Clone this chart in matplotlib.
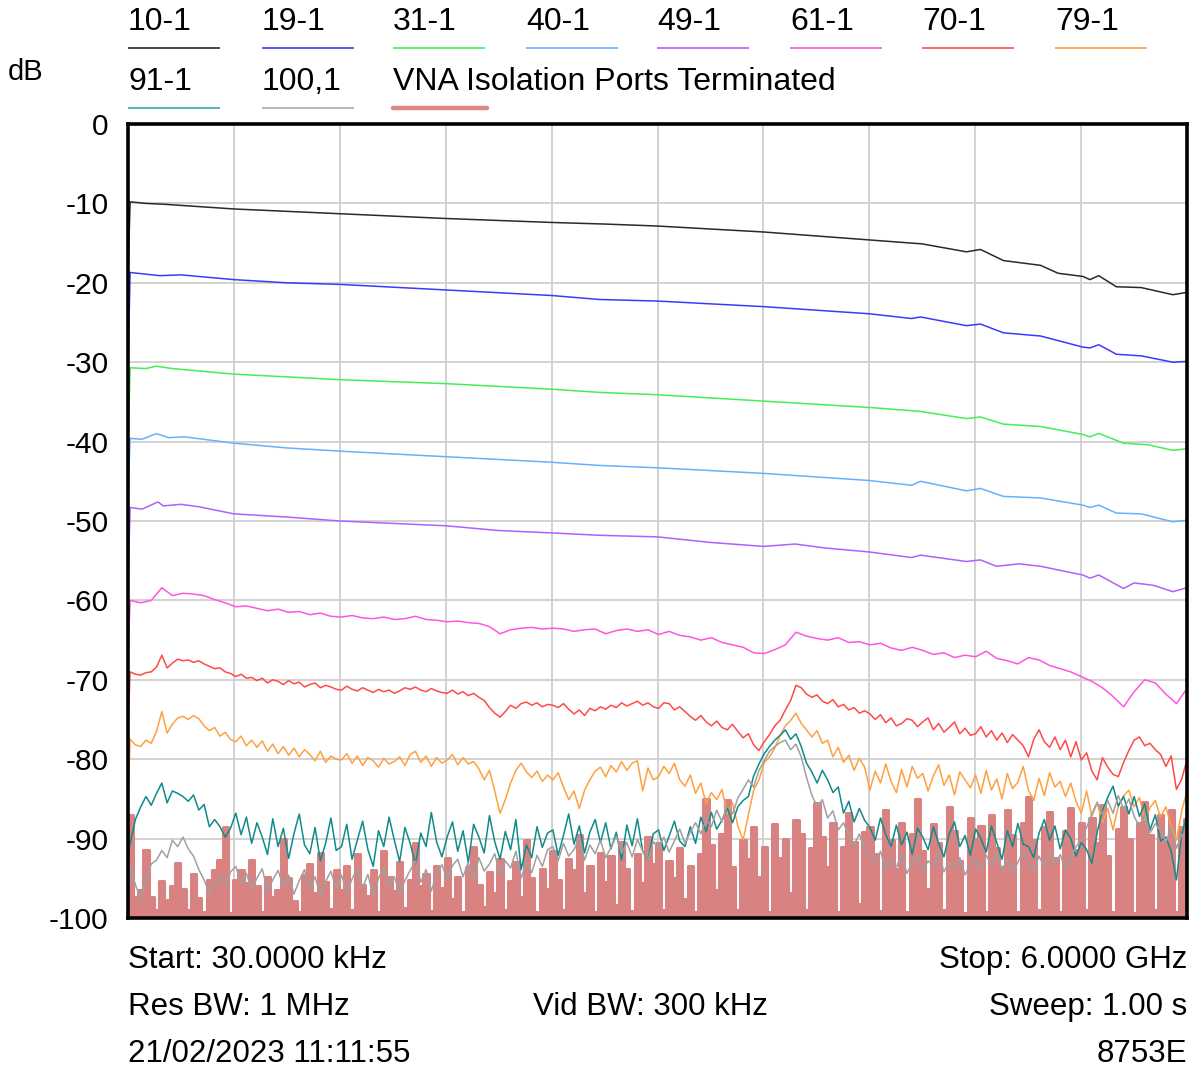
import numpy as np
import matplotlib.pyplot as plt
from matplotlib.lines import Line2D

plt.rcParams['font.family'] = ['Liberation Sans', 'DejaVu Sans']

# sweep: 30 kHz .. 6 GHz, frequency in GHz
f_start = 0.00003
f_stop = 6.0

# ---- smooth traces: breakpoints (GHz, dB) ----
f_10 = [0.012, 0.1, 0.2, 0.6, 1.2, 1.8, 2.4, 2.7, 3.0, 3.6, 4.2, 4.5, 4.75, 4.83, 4.96,
        5.17, 5.27, 5.41, 5.45, 5.5, 5.6, 5.74, 5.92, 6.0]
db_10 = [-9.8, -10.0, -10.1, -10.7, -11.3, -11.9, -12.4, -12.6, -12.85, -13.6, -14.6, -15.1,
         -16.1, -15.8, -17.2, -17.8, -18.8, -19.2, -19.6, -19.1, -20.5, -20.6, -21.5, -21.2]

f_19 = [0.012, 0.18, 0.3, 0.6, 0.9, 1.2, 1.8, 2.4, 2.67, 3.0, 3.6, 4.2, 4.44, 4.49, 4.75,
        4.83, 4.96, 5.17, 5.41, 5.45, 5.5, 5.6, 5.74, 5.92, 6.0]
db_19 = [-18.7, -19.1, -19.0, -19.6, -20.0, -20.2, -20.9, -21.6, -22.1, -22.3, -23.0, -23.9,
         -24.5, -24.3, -25.4, -25.2, -26.3, -26.7, -28.1, -28.2, -27.8, -29.0, -29.2, -30.0, -29.9]

f_31 = [0.012, 0.1, 0.16, 0.25, 0.6, 1.2, 1.8, 2.4, 2.67, 3.0, 3.6, 4.2, 4.49, 4.75, 4.83,
        4.96, 5.17, 5.41, 5.45, 5.5, 5.64, 5.78, 5.92, 6.0]
db_31 = [-30.7, -30.8, -30.5, -30.8, -31.5, -32.2, -32.7, -33.4, -33.8, -34.1, -34.9, -35.7,
         -36.2, -37.1, -36.9, -37.8, -38.1, -39.1, -39.4, -38.96, -40.2, -40.4, -41.1, -40.9]

f_40 = [0.012, 0.08, 0.16, 0.23, 0.32, 0.6, 0.9, 1.2, 1.8, 2.4, 2.67, 3.0, 3.6, 4.2, 4.44,
        4.49, 4.75, 4.83, 4.96, 5.17, 5.41, 5.45, 5.5, 5.6, 5.74, 5.92, 6.0]
db_40 = [-39.6, -39.7, -39.0, -39.5, -39.4, -40.2, -40.8, -41.2, -41.9, -42.6, -43.0, -43.3,
         -44.0, -44.9, -45.5, -45.0, -46.2, -45.9, -46.9, -47.1, -48.0, -48.3, -48.0, -49.0,
         -49.1, -50.1, -49.9]

f_49 = [0.012, 0.08, 0.17, 0.2, 0.3, 0.4, 0.6, 0.9, 1.2, 1.8, 2.1, 2.4, 2.67, 3.0, 3.3, 3.6,
        3.78, 3.95, 4.2, 4.44, 4.49, 4.75, 4.83, 4.92, 5.05, 5.17, 5.3, 5.41, 5.45, 5.5, 5.64,
        5.7, 5.81, 5.92, 6.0]
db_49 = [-48.3, -48.5, -47.6, -48.1, -47.9, -48.2, -49.1, -49.5, -50.0, -50.6, -51.2, -51.5,
         -51.8, -52.0, -52.7, -53.2, -52.9, -53.4, -53.9, -54.6, -54.3, -55.1, -54.9, -55.7,
         -55.4, -55.7, -56.3, -56.8, -57.2, -56.8, -58.5, -57.8, -58.1, -58.9, -58.4]

# ---- noisy traces: uniform sweep samples, one value per 1/10 or 1/20 division ----
db_61 = [
    -60.0, -60.3, -60.0, -58.4, -59.4, -59.1, -59.2, -59.4, -59.9, -60.3,
    -60.8, -60.7, -61.0, -61.3, -61.1, -61.5, -61.4, -61.8, -61.6, -62.0,
    -62.1, -61.9, -62.2, -62.3, -62.1, -62.4, -62.3, -62.0, -62.4, -62.5,
    -62.7, -62.6, -62.8, -62.9, -63.3, -64.2, -63.7, -63.5, -63.4, -63.6,
    -63.5, -63.6, -63.9, -63.7, -63.6, -64.2, -63.8, -63.6, -63.9, -63.7,
    -64.3, -63.9, -64.4, -64.6, -65.0, -64.7, -65.3, -65.6, -65.9, -66.6,
    -66.7, -66.2, -65.6, -64.0, -64.5, -64.8, -65.0, -64.7, -65.3, -65.2,
    -65.6, -65.4, -66.0, -66.3, -65.9, -66.3, -66.8, -66.6, -67.2, -66.9,
    -67.1, -66.4, -67.3, -67.6, -68.0, -67.2, -67.5, -68.2, -68.6, -69.0,
    -69.6, -70.2, -71.0, -72.1, -73.4, -71.5, -70.0, -70.4, -71.8, -73.0,
    -71.1]

db_70 = [
    -69.0, -69.3, -69.4, -69.1, -69.0, -68.4, -66.9, -68.5, -67.9, -67.4,
    -67.6, -67.5, -67.8, -67.6, -68.0, -68.3, -68.6, -68.5, -69.0, -69.2,
    -69.6, -69.3, -69.8, -69.7, -70.1, -69.8, -70.4, -70.0, -70.2, -70.6,
    -70.1, -70.5, -70.3, -70.9, -70.6, -70.4, -71.0, -70.7, -70.9, -71.2,
    -71.3, -70.8, -71.2, -71.4, -71.0, -71.3, -71.6, -71.2, -71.5, -71.3,
    -71.7, -71.4, -71.0, -71.2, -70.9, -71.3, -71.5, -71.1, -71.4, -71.6,
    -71.7, -71.3, -71.8, -71.5, -72.0, -71.7, -72.2, -72.6, -73.5, -74.2,
    -74.7, -74.0, -73.2, -73.6, -73.0, -72.8, -73.2, -72.9, -73.4, -73.1,
    -73.2, -73.5, -73.0, -73.7, -74.3, -73.8, -74.5, -73.6, -73.9, -73.4,
    -73.7, -73.2, -73.5, -72.9, -73.3, -73.0, -72.7, -73.2, -72.9, -73.4,
    -73.6, -72.9, -73.0, -73.8, -73.4, -74.0, -74.6, -75.1, -74.5, -75.3,
    -75.8, -75.2, -76.0, -76.3, -75.6, -76.5, -77.3, -76.8, -78.2, -78.9,
    -77.8, -76.9, -75.8, -75.1, -73.8, -72.6, -70.7, -71.0, -71.8, -72.2,
    -71.9, -72.7, -73.0, -72.5, -73.4, -73.1, -73.8, -73.5, -74.2, -73.9,
    -74.3, -75.0, -74.4, -75.4, -74.8, -75.8, -75.5, -74.9, -75.1, -75.9,
    -75.3, -74.8, -76.3, -75.5, -76.6, -76.0, -75.3, -76.8, -76.1, -77.0,
    -76.8, -75.9, -77.2, -76.4, -77.6, -76.7, -77.9, -76.9, -77.6, -78.3,
    -79.7, -77.5, -76.3, -77.8, -78.5, -77.2, -78.8, -77.6, -79.7, -77.8,
    -80.1, -79.2, -81.5, -82.6, -79.8, -81.0, -81.9, -82.2, -80.4, -78.9,
    -77.6, -77.2, -78.3, -78.0, -78.8, -79.4, -80.9, -79.6, -83.8, -82.5,
    -80.1]

db_79 = [
    -77.5, -78.2, -78.4, -77.6, -78.0, -76.5, -74.0, -76.7, -75.6, -74.8,
    -74.6, -75.0, -74.5, -74.9, -75.8, -76.4, -76.0, -77.1, -76.6, -77.5,
    -77.8, -77.1, -78.3, -77.6, -78.5, -77.7, -79.0, -78.1, -79.3, -78.4,
    -79.5, -78.6, -79.7, -78.8, -79.4, -80.2, -79.0, -80.4, -79.6, -80.0,
    -80.1, -79.3, -80.5, -79.6, -80.8, -79.8, -80.2, -81.0, -79.9, -80.6,
    -80.3, -79.7, -80.8, -79.4, -79.0, -80.4, -79.6, -80.9, -79.8, -80.5,
    -80.1, -79.4, -80.7, -79.8, -80.6, -80.3, -81.2, -82.6, -81.4, -84.0,
    -86.8, -85.1, -83.0, -81.4, -80.5, -81.6, -82.3, -81.5, -82.8, -82.0,
    -82.6, -81.7, -83.5, -85.1, -84.0, -86.2, -83.9, -82.6, -81.5, -81.0,
    -82.2, -80.8, -81.6, -80.3, -81.4, -80.5, -80.2, -84.0, -81.1, -82.6,
    -82.2, -80.9, -81.8, -80.5, -82.6, -83.4, -82.0, -84.3, -83.0, -85.6,
    -84.2, -85.1, -83.8, -86.9, -85.5, -88.4, -90.2, -87.0, -83.9, -82.6,
    -80.4, -79.7, -78.6, -77.0, -75.8, -75.1, -74.2, -75.5, -76.3, -77.2,
    -76.4, -78.0, -77.6, -79.7, -78.5, -80.4, -79.5, -81.4, -79.9, -81.0,
    -83.9, -81.5, -83.0, -80.6, -82.8, -84.2, -81.3, -83.5, -80.9, -82.4,
    -81.8, -84.0, -82.1, -80.7, -83.3, -82.0, -84.5, -81.6, -82.6, -83.6,
    -82.0, -84.3, -81.4, -83.9, -82.5, -85.0, -81.8, -83.7, -82.9, -80.9,
    -83.9, -85.2, -82.4, -84.6, -81.7, -83.5, -82.8, -84.7, -83.0, -85.3,
    -86.8, -84.0, -87.2, -85.5, -88.0, -86.2, -88.9, -85.9, -84.6, -83.9,
    -86.0, -84.8, -87.7, -86.1, -85.2, -87.3, -86.0, -88.4, -90.2, -86.5,
    -84.0]

db_91 = [
    -90.6, -87.6, -86.0, -84.7, -85.8, -84.3, -83.0, -85.5, -84.0, -84.3,
    -84.7, -85.3, -84.5, -86.4, -85.7, -88.5, -87.6, -88.5, -89.8, -88.7,
    -86.8, -89.5, -87.3, -90.6, -88.0, -89.8, -92.0, -87.5, -91.0, -88.7,
    -92.5, -89.4, -86.9, -90.8, -91.9, -88.6, -92.8, -90.6, -87.4, -91.5,
    -91.0, -88.2, -92.6, -90.2, -87.8, -91.4, -93.5, -89.0, -91.0, -87.3,
    -90.2, -92.9, -88.6, -90.6, -93.2, -89.3, -91.0, -86.7, -90.4, -92.3,
    -89.8, -87.9, -91.6, -89.0, -93.0, -88.2, -89.8, -91.8, -87.1, -90.4,
    -92.6, -89.1, -91.4, -87.6, -93.9, -90.8, -92.4, -88.5, -91.1, -89.3,
    -88.9, -92.1, -89.6, -86.9, -90.7, -88.4, -91.8, -89.2, -87.6, -90.5,
    -88.0, -91.3, -89.2, -92.7, -88.3, -90.9, -87.5, -91.6, -92.7, -89.4,
    -88.9, -91.5, -89.7, -87.8, -90.3, -91.0, -88.5, -90.6, -87.3, -89.1,
    -86.7, -88.8, -87.7, -86.1, -88.0, -86.0, -85.2, -84.7, -82.1, -80.6,
    -79.3, -78.4, -77.6, -77.0, -76.3, -77.5, -76.8, -78.4, -80.5, -81.6,
    -83.0, -81.4, -82.6, -84.2, -83.5, -86.8, -85.3, -87.9, -86.2, -87.7,
    -88.6, -90.2, -87.4, -89.5, -91.0, -88.3, -90.8, -89.2, -92.0, -88.7,
    -89.8, -91.4, -88.5, -90.6, -92.3, -89.4, -87.9, -91.0, -89.6, -92.1,
    -88.8, -90.0, -91.7, -88.4, -90.5, -92.6, -89.0, -91.0, -88.1, -90.7,
    -91.0, -92.4, -89.3, -87.6, -90.2, -88.4, -91.3, -88.9, -90.0, -92.2,
    -90.5, -91.4, -93.1, -89.2, -86.5, -84.8, -83.4, -85.9, -84.7, -86.9,
    -84.7, -87.2, -85.6, -88.9, -87.0, -90.3, -89.8, -91.6, -95.2, -89.5,
    -87.0]

db_100 = [
    -93.5, -95.8, -97.6, -95.0, -93.2, -92.7, -91.5, -92.4, -90.2, -91.0,
    -89.8, -91.3, -92.2, -93.9, -95.2, -96.9, -95.5, -94.8, -96.0, -94.2,
    -93.5, -95.6, -94.4, -96.3, -95.0, -93.8, -96.5, -95.2, -94.0, -96.0,
    -94.6, -97.0, -95.3, -93.9, -96.4, -94.8, -97.2, -95.4, -94.1, -96.3,
    -94.6, -96.8, -95.1, -93.7, -96.2, -94.5, -97.3, -95.0, -93.6, -96.1,
    -94.8, -96.9, -95.3, -94.0, -92.8, -95.5, -93.9, -96.6, -94.4, -93.3,
    -95.1, -93.4, -92.6, -94.8, -93.0, -95.2, -92.4, -94.1, -93.2, -91.9,
    -94.6, -92.8, -93.7, -91.6, -95.0, -92.9, -94.3, -92.1, -93.5, -91.4,
    -91.0, -92.8, -90.6, -92.2, -91.4, -89.9, -92.7, -90.8, -91.9, -90.2,
    -92.4, -91.1, -89.7, -91.8, -90.5, -92.3, -90.1, -91.6, -92.7, -90.4,
    -91.2, -89.8, -91.7, -90.3, -88.8, -90.6, -89.2, -88.0, -89.4, -87.6,
    -88.5, -86.4, -87.9, -85.8, -86.9, -84.9, -83.8, -82.6, -83.5, -81.4,
    -80.2, -79.0, -78.4, -77.9, -77.6, -78.8, -78.1, -79.7, -82.3, -84.5,
    -86.0, -85.1, -87.4, -86.5, -88.9, -88.0, -89.6, -90.8, -89.4, -91.5,
    -92.3, -93.1, -91.6, -94.0, -92.5, -93.6, -91.9, -94.4, -93.0, -92.2,
    -94.1, -92.8, -93.5, -91.7, -94.2, -92.9, -93.8, -92.4, -94.6, -93.2,
    -92.6, -94.0, -92.1, -93.4, -91.8, -93.9, -92.7, -94.3, -93.0, -91.6,
    -92.9, -94.1, -92.2, -93.6, -91.5, -93.3, -92.0, -93.8, -92.4, -91.0,
    -90.2, -88.6, -86.9, -85.4, -87.0, -85.2, -86.8, -84.6, -86.3, -85.0,
    -87.2, -88.5, -87.0, -89.3, -88.1, -89.0, -90.4, -88.7, -91.2, -89.5,
    -90.0]

db_vna = [
    -87.0, -97.3, -96.5, -91.4, -97.3, -99.0, -95.4, -97.7, -96.0, -93.1,
    -96.3, -99.0, -94.4, -97.5, -99.2, -95.2, -93.9, -92.7, -88.5, -99.4,
    -95.2, -94.0, -95.6, -92.7, -96.0, -99.3, -94.8, -97.3, -96.5, -90.0,
    -95.0, -97.8, -99.2, -94.6, -93.2, -96.8, -91.8, -95.5, -98.9, -94.0,
    -96.5, -93.5, -99.0, -92.0, -95.8, -97.2, -94.0, -99.3, -91.6, -94.8,
    -96.6, -93.0, -98.8, -95.2, -90.6, -96.0, -94.4, -99.1, -93.5, -96.2,
    -92.4, -97.6, -94.8, -99.2, -93.6, -91.0, -95.8, -98.6, -94.2, -96.8,
    -92.6, -99.0, -95.4, -93.0, -97.4, -90.2, -95.0, -99.3, -93.8, -96.4,
    -91.5, -95.2, -99.0, -92.6, -94.0, -89.6, -96.8, -93.4, -99.2, -91.8,
    -95.5, -92.2, -98.4, -90.4, -93.8, -99.1, -92.0, -95.6, -89.8, -93.2,
    -90.6, -99.0, -92.8, -95.0, -91.2, -97.6, -93.4, -99.3, -92.0, -85.0,
    -90.8, -96.5, -89.4, -85.2, -93.6, -99.0, -90.2, -92.6, -88.5, -94.8,
    -91.0, -99.2, -88.2, -92.4, -90.0, -96.8, -87.6, -89.4, -99.0, -91.2,
    -85.5, -89.8, -93.6, -88.0, -99.3, -91.0, -86.8, -90.4, -98.2, -89.2,
    -88.6, -92.0, -99.1, -86.4, -90.2, -93.8, -88.0, -99.2, -89.4, -85.0,
    -91.6, -96.4, -88.2, -90.6, -99.0, -86.0, -89.0, -92.8, -99.4, -87.4,
    -90.0, -88.4, -99.2, -87.0, -91.2, -93.6, -86.4, -89.6, -99.3, -88.0,
    -84.8, -90.2, -99.0, -88.6, -86.6, -92.4, -99.2, -89.0, -86.2, -91.4,
    -88.0, -99.0, -87.4, -90.6, -85.8, -92.2, -99.2, -88.8, -86.0, -90.0,
    -99.4, -88.0, -85.4, -89.6, -99.0, -87.0, -90.4, -86.4, -99.2, -88.6,
    -87.5]

# level of the very first sweep point of each trace (drawn as a drop at the left edge)
first_db = [-19.0, -30.5, -40.5, -47.0, -58.0, -67.0, -76.0, -85.0, -92.0, -100.0, -87.0]

names = ["10-1", "19-1", "31-1", "40-1", "49-1", "61-1", "70-1", "79-1", "91-1", "100,1",
         "VNA Isolation Ports Terminated"]
colors = ["#2a2a2a", "#3a3aff", "#44ee55", "#66b0ff", "#b060ff", "#ff55e0", "#ff4a4a",
          "#ffa040", "#108a8a", "#a0a0a0", "#d98282"]
leg_colors = ["#2a2a2a", "#3a3aff", "#44ee55", "#66b0ff", "#b060ff", "#ff55e0", "#ff4a4a",
              "#ffa040", "#3aaaaa", "#aaaaaa", "#e08686"]


def sweep(n):
    return np.linspace(0.012, f_stop, n)


traces = [
    (f_10, db_10), (f_19, db_19), (f_31, db_31), (f_40, db_40), (f_49, db_49),
    (sweep(len(db_61)), db_61), (sweep(len(db_70)), db_70), (sweep(len(db_79)), db_79),
    (sweep(len(db_91)), db_91), (sweep(len(db_100)), db_100), (sweep(len(db_vna)), db_vna),
]

W, H = 1190, 1071
fig = plt.figure(figsize=(W / 100, H / 100), dpi=100)
ax = fig.add_axes([128 / W, 1 - 918 / H, (1187 - 128) / W, (918 - 124) / H])

for k, (fx, fy) in enumerate(traces):
    xs = np.concatenate([[f_start], np.asarray(fx, dtype=float)])
    ys = np.concatenate([[first_db[k]], np.asarray(fy, dtype=float)])
    if k == 10:
        # the thick isolation trace: dense up/down sweep, reads as solid bars
        ax.fill_between(xs, -100, ys, step="mid", color=colors[k], lw=0, zorder=1.5)
        ax.plot(xs, ys, drawstyle="steps-mid", color=colors[k], lw=2.2, zorder=1.5)
    else:
        ax.plot(xs, ys, color=colors[k], lw=1.1, zorder=2 + k * 0.1)

ax.set_xlim(f_start, f_stop)
ax.set_ylim(-100, 0)
ax.set_xticks(np.linspace(f_start, f_stop, 11))
ax.set_yticks(np.arange(-100, 1, 10))
ax.set_yticklabels([str(v) for v in range(-100, 1, 10)], fontsize=21.5)
ax.set_xticklabels([])
ax.tick_params(length=0, pad=14)
ax.grid(True, color="#cfcfcf", lw=1.3, zorder=0)
ax.set_axisbelow(True)
for s in ax.spines.values():
    s.set_linewidth(2.6)
    s.set_color("black")
    s.set_zorder(5)

# legend drawn as in the instrument header
leg_x = [128, 262, 393, 526, 657, 790, 922, 1055, 128, 262, 393]
leg_row = [0, 0, 0, 0, 0, 0, 0, 0, 1, 1, 1]
for k in range(len(names)):
    x0 = leg_x[k]
    ty = 22 + 60 * leg_row[k]
    ly = 48 + 60 * leg_row[k]
    fig.text(x0 / W, 1 - ty / H, names[k], fontsize=23, ha="left", va="center")
    x1 = x0 + (94 if k == 10 else 92)
    fig.add_artist(Line2D([x0 / W, x1 / W], [1 - ly / H, 1 - ly / H], color=leg_colors[k],
                          lw=3.2 if k == 10 else 1.2, transform=fig.transFigure,
                          solid_capstyle="round" if k == 10 else "butt"))

fig.text(8 / W, 1 - 72 / H, "dB", fontsize=21, ha="left", va="center")

# sweep settings under the graticule
fs = 22.5
fig.text(128 / W, 1 - 960 / H, "Start: 30.0000 kHz", fontsize=fs, ha="left", va="center")
fig.text(1187 / W, 1 - 960 / H, "Stop: 6.0000 GHz", fontsize=fs, ha="right", va="center")
fig.text(128 / W, 1 - 1007 / H, "Res BW: 1 MHz", fontsize=fs, ha="left", va="center")
fig.text(533 / W, 1 - 1007 / H, "Vid BW: 300 kHz", fontsize=fs, ha="left", va="center")
fig.text(1187 / W, 1 - 1007 / H, "Sweep: 1.00 s", fontsize=fs, ha="right", va="center")
fig.text(128 / W, 1 - 1054 / H, "21/02/2023 11:11:55", fontsize=fs, ha="left", va="center")
fig.text(1187 / W, 1 - 1054 / H, "8753E", fontsize=fs, ha="right", va="center")

fig.savefig("out.png", dpi=100)
